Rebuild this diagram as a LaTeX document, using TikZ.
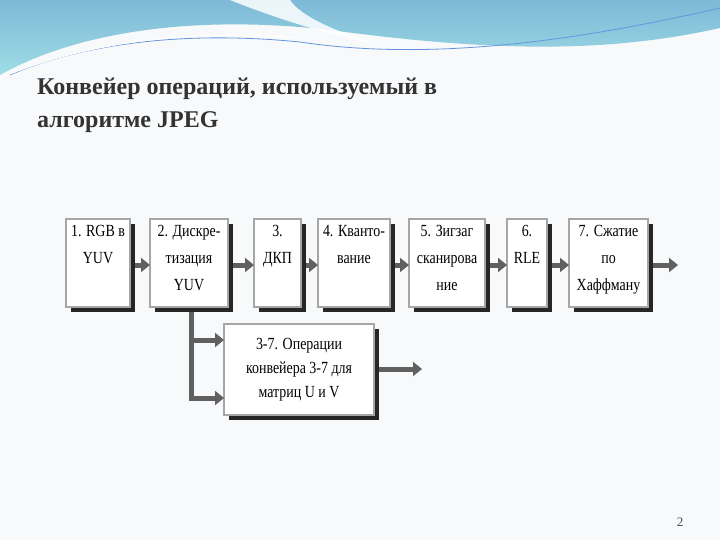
\documentclass[tikz,border=0pt]{standalone}
\usepackage{fontspec}
\setmainfont{Liberation Serif}
\newfontfamily\narrowf[FakeStretch=0.82]{Liberation Serif}
\usetikzlibrary{arrows.meta}
\definecolor{swA}{HTML}{7EB9D6}
\definecolor{swB}{HTML}{9EDDE6}
\definecolor{bgc}{HTML}{F8F9FA}
\begin{document}
\begin{tikzpicture}[x=1pt,y=-1pt,
  arr/.style={draw=gray!75!black,line width=5pt,-{Triangle[length=9pt,width=14pt]}}]
\useasboundingbox (0,0) rectangle (720,540);
\fill[bgc] (0,0) rectangle (720,540);
% top decoration
\shade[top color=swA, bottom color=swB]
  (0,0) -- (720,0) -- (720,28) .. controls (600,55) and (480,50) .. (330,30)
  .. controls (200,15) and (80,30) .. (0,75) -- cycle;
\fill[white,opacity=0.85] (230,0) .. controls (280,20) and (330,35) .. (380,45) .. controls (330,30) and (300,15) .. (290,0) -- cycle;
\draw[swA!80!blue,line width=0.8pt] (10,75) .. controls (80,45) and (180,30) .. (300,42) .. controls (420,60) and (560,45) .. (720,8);
\draw[white,line width=1pt] (0,78) .. controls (80,45) and (180,28) .. (300,38);
% title
\node[anchor=north west,align=left,text=black!80,font=\bfseries\fontsize{24}{33}\selectfont,inner sep=0pt] (title) at (37,78)
  {Конвейер операций, используемый в\\алгоритме JPEG};
% boxes
\foreach \n/\xa/\xb/\t in {
 b1/66/130/{1. RGB в\\YUV},
 b2/150/228/{2. Дискре-\\тизация\\YUV},
 b3/254/301/{3.\\ДКП},
 b4/318/390/{4. Кванто-\\вание},
 b5/409/485/{5. Зигзаг\\сканирова\\ние},
 b6/507/547/{6.\\RLE},
 b7/569/648/{7. Сжатие\\по\\Хаффману}}{
 \fill[black!85] (\xa+5,224) rectangle (\xb+5,312);
 \draw[draw=gray!70,line width=1.6pt,fill=white] (\xa,219) rectangle (\xb,307);
 \node[align=center,font=\narrowf\fontsize{17}{27}\selectfont,anchor=north,inner sep=0pt] (\n) at ({(\xa+\xb)/2},225) {\t};
 \coordinate (\n w) at (\xa,265); \coordinate (\n e) at (\xb+5,265);
}
\fill[black!85] (229,329) rectangle (379,420);
\draw[draw=gray!70,line width=1.6pt,fill=white] (224,324) rectangle (374,415);
\node[align=center,font=\narrowf\fontsize{17}{24}\selectfont] (b8) at (299,370) {3-7. Операции\\конвейера 3-7 для\\матриц U и V};
\coordinate (b8e) at (379,369);
\coordinate (out1) at (678,265);
\coordinate (out2) at (422,369);
\coordinate (br) at (191,312);
\coordinate (b8a) at (224,340);
\coordinate (b8b) at (224,398);
\draw[arr] (b1e) -- (b2w);
\draw[arr] (b2e) -- (b3w);
\draw[arr] (b3e) -- (b4w);
\draw[arr] (b4e) -- (b5w);
\draw[arr] (b5e) -- (b6w);
\draw[arr] (b6e) -- (b7w);
\draw[arr] (b7e) -- (out1);
\draw[arr] (b8e) -- (out2);
\draw[gray!75!black,line width=5pt] (br) -- (191,400.5);
\draw[arr] (188.5,340) -- (b8a);
\draw[arr] (188.5,398) -- (b8b);
\node[font=\fontsize{13}{14}\selectfont,text=black!70] (pg) at (680,522) {2};
\end{tikzpicture}
\end{document}
